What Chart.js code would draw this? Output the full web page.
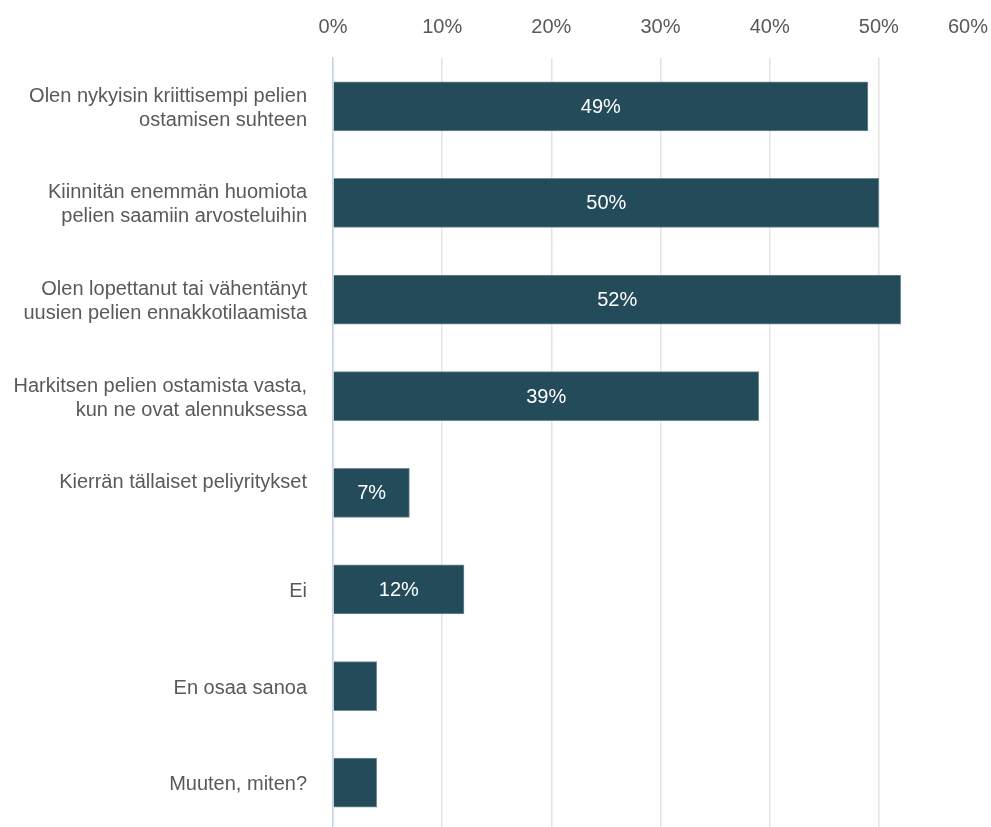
<!DOCTYPE html>
<html>
<head>
<meta charset="utf-8">
<script src="https://cdn.jsdelivr.net/npm/chart.js@4/dist/chart.umd.min.js"></script>
<style>
  html, body { margin: 0; padding: 0; background: #fff; overflow: hidden; }
  /* the plot runs a few pixels past the bottom edge, as in the original */
  #wrap { width: 991px; height: 831px; }
</style>
</head>
<body>
<div id="wrap"><canvas id="chart"></canvas></div>
<script>
const categories = [
  ['Olen nykyisin kriittisempi pelien', 'ostamisen suhteen'],
  ['Kiinnitän enemmän huomiota', 'pelien saamiin arvosteluihin'],
  ['Olen lopettanut tai vähentänyt', 'uusien pelien ennakkotilaamista'],
  ['Harkitsen pelien ostamista vasta,', 'kun ne ovat alennuksessa'],
  ['Kierrän tällaiset peliyritykset', ''],
  'Ei',
  'En osaa sanoa',
  'Muuten, miten?',
];
const shares = [49, 50, 52, 39, 7, 12, 4, 4];
const xTicks = [0, 10, 20, 30, 40, 50, 60];

const TEXT = '#595959';
const BAR = '#244B5A';
const FONT = "'Liberation Sans', Arial, sans-serif";
const SIZE = 20;

// value labels inside the bars; tiny bars get none
const barLabels = {
  id: 'barLabels',
  afterDatasetsDraw(chart) {
    const { ctx } = chart;
    const meta = chart.getDatasetMeta(0);
    ctx.save();
    ctx.font = `${SIZE}px ${FONT}`;
    ctx.fillStyle = '#ffffff';
    ctx.textAlign = 'center';
    ctx.textBaseline = 'middle';
    meta.data.forEach((bar, i) => {
      if (shares[i] < 5) return;
      ctx.fillText(shares[i] + '%', (bar.base + bar.x) / 2, bar.y + 1);
    });
    ctx.restore();
  },
};

// top axis labels, the last one pulled inside the canvas like the original
const topTicks = {
  id: 'topTicks',
  afterDraw(chart) {
    const { ctx } = chart;
    const x = chart.scales.x;
    ctx.save();
    ctx.font = `${SIZE}px ${FONT}`;
    ctx.fillStyle = TEXT;
    ctx.textBaseline = 'middle';
    xTicks.forEach((v, i) => {
      const px = x.getPixelForValue(v);
      const last = i === xTicks.length - 1;
      ctx.textAlign = last ? 'right' : 'center';
      ctx.fillText(v + '%', last ? chart.width - 3 : px, 27);
    });
    ctx.restore();
  },
};

new Chart(document.getElementById('chart'), {
  type: 'bar',
  data: {
    labels: categories,
    datasets: [{
      data: shares,
      backgroundColor: BAR,
      borderColor: '#6f8e99',
      borderWidth: 1,
      barThickness: 49,
    }],
  },
  options: {
    indexAxis: 'y',
    responsive: true, maintainAspectRatio: false,
    animation: false,
    layout: { padding: { left: 0, right: 3, top: 0, bottom: 0 } },
    plugins: { legend: { display: false }, tooltip: { enabled: false } },
    scales: {
      x: {
        position: 'top',
        min: 0, max: 60,
        ticks: { display: false, stepSize: 10 },
        grid: {
          drawTicks: false,
          color: (c) => (c.tick && c.tick.value === 60 ? 'rgba(0,0,0,0)' : '#e3e3e3'),
          lineWidth: 1.5,
        },
        border: { display: false },
        afterFit(scale) { scale.height = 58; scale.paddingLeft = 0; scale.paddingRight = 0; },
      },
      y: {
        ticks: { color: TEXT, font: { family: FONT, size: SIZE, lineHeight: '24px' }, padding: 26, labelOffset: 2, autoSkip: false },
        grid: { display: false, drawTicks: false },
        border: { display: true, color: '#c8d3ea', width: 1.5 },
        afterFit(scale) { scale.width = 333; scale.paddingTop = 0; scale.paddingBottom = 0; },
      },
    },
  },
  plugins: [barLabels, topTicks],
});
</script>
</body>
</html>
